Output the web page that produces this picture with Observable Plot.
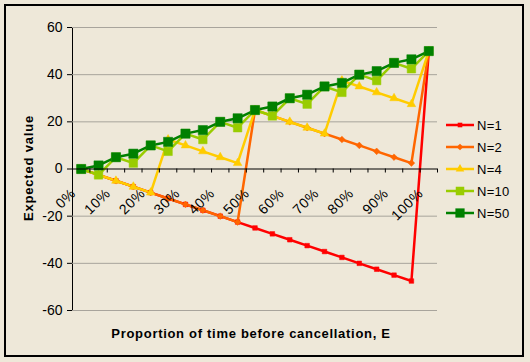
<!DOCTYPE html>
<html>
<head>
<meta charset="utf-8">
<script src="https://cdn.jsdelivr.net/npm/d3@7"></script>
<script src="https://cdn.jsdelivr.net/npm/@observablehq/plot@0.6"></script>
<style>
  html, body { margin: 0; padding: 0; background: #EEE8D9; }
  #wrap { position: relative; width: 530px; height: 362px; overflow: hidden; background: #EEE8D9; font-family: "Liberation Sans", Arial, sans-serif; }
  #wrap svg.plot { position: absolute; left: 0; top: 0; }
  #border { position: absolute; left: 4px; top: 4px; width: 520px; height: 353px; box-sizing: border-box; border: 2px solid #000; pointer-events: none; }
  #ytitle { position: absolute; left: 28px; top: 168px; transform: translate(-50%, -50%) rotate(-90deg); font-weight: bold; font-size: 13px; letter-spacing: 0.8px; white-space: nowrap; color: #000; }
  #xtitle { position: absolute; left: 251px; top: 333px; transform: translate(-50%, -50%); font-weight: bold; font-size: 13px; letter-spacing: 0.7px; white-space: nowrap; color: #000; }
  #legend { position: absolute; left: 446px; top: 114px; font-size: 13px; color: #000; letter-spacing: 0.3px; }
  #legend .row { height: 22px; display: flex; align-items: center; }
  #legend svg { margin-right: 3px; }
</style>
</head>
<body>
<div id="wrap">
  <div id="chart"></div>
  <div id="ytitle">Expected value</div>
  <div id="xtitle">Proportion of time before cancellation, E</div>
  <div id="legend"></div>
  <div id="border"></div>
</div>
<script>
// Data
const proportions = [0, 0.05, 0.10, 0.15, 0.20, 0.25, 0.30, 0.35, 0.40, 0.45, 0.50, 0.55, 0.60, 0.65, 0.70, 0.75, 0.80, 0.85, 0.90, 0.95, 1.00];
const tickLabelValues = [0, 0.10, 0.20, 0.30, 0.40, 0.50, 0.60, 0.70, 0.80, 0.90, 1.00];
const tickLabels = ["0%", "10%", "20%", "30%", "40%", "50%", "60%", "70%", "80%", "90%", "100%"];
const seriesNames = ["N=1", "N=2", "N=4", "N=10", "N=50"];
const n1 = [0, -2.5, -5, -7.5, -10, -12.5, -15, -17.5, -20, -22.5, -25, -27.5, -30, -32.5, -35, -37.5, -40, -42.5, -45, -47.5, 50];
const n2 = [0, -2.5, -5, -7.5, -10, -12.5, -15, -17.5, -20, -22.5, 25, 22.5, 20, 17.5, 15, 12.5, 10, 7.5, 5, 2.5, 50];
const n4 = [0, -2.5, -5, -7.5, -10, 12.5, 10, 7.5, 5, 2.5, 25, 22.5, 20, 17.5, 15, 37.5, 35, 32.5, 30, 27.5, 50];
const n10 = [0, -2.5, 5, 2.5, 10, 7.5, 15, 12.5, 20, 17.5, 25, 22.5, 30, 27.5, 35, 32.5, 40, 37.5, 45, 42.5, 50];
const n50 = [0, 1.5, 5, 6.5, 10, 11.5, 15, 16.5, 20, 21.5, 25, 26.5, 30, 31.5, 35, 36.5, 40, 41.5, 45, 46.5, 50];
const yGridValues = [-60, -40, -20, 20, 40, 60];

// Styles
const seriesValues = [n1, n2, n4, n10, n50];
const colors = ["#FF0000", "#FF6600", "#FFCC00", "#99CC00", "#008000"];
const symbols = ["square", "diamond2", "triangle", "square", "square"];
const radii = [2.6, 3.0, 3.2, 4.8, 5.2];

const step = 0.05;
const categoryBounds = d3.range(proportions.length + 1).map(i => -step / 2 + i * step);

const series = seriesNames.map((name, s) => ({
  name, color: colors[s], symbol: symbols[s], r: radii[s],
  data: proportions.map((p, i) => ({x: p, y: seriesValues[s][i]}))
}));

const lineMarks = series.map(s => Plot.line(s.data, {x: "x", y: "y", stroke: s.color, strokeWidth: 2.5}));
const dotMarks = series.map(s => Plot.dot(s.data, {x: "x", y: "y", symbol: () => s.symbol, r: s.r, fill: s.color, stroke: s.color, strokeWidth: 0.5}));

const chart = Plot.plot({
  width: 530,
  height: 362,
  marginLeft: 72,
  marginRight: 93,
  marginTop: 27,
  marginBottom: 52,
  style: {background: "transparent", fontFamily: "'Liberation Sans', Arial, sans-serif", fontSize: "14px", color: "#000"},
  x: {domain: [-step / 2, 1 + step / 2], axis: null},
  y: {domain: [-60, 60], label: null, line: true, tickSize: 5, tickPadding: 5, tickFormat: d => String(d)},
  symbol: {type: "identity"},
  marks: [
    Plot.ruleY(yGridValues, {stroke: "#A8A49C", strokeWidth: 1}),
    ...lineMarks,
    ...dotMarks,
    Plot.ruleY([0], {stroke: "#000", strokeWidth: 1}),
    Plot.ruleX(categoryBounds, {x: d => d, y1: () => 0, y2: () => 0, insetBottom: -4, stroke: "#000"}),
    Plot.text(tickLabelValues, {x: d => d, y: () => 0, text: (d, i) => tickLabels[i], rotate: -45, textAnchor: "end", fontSize: 14, fill: "#000"})
  ]
});
document.getElementById("chart").appendChild(chart);
// shift rotated category labels below the axis (screen-space offset before rotation)
d3.select(chart).selectAll("text")
  .filter(function() { return tickLabels.includes(this.textContent) && (this.getAttribute("transform") || "").includes("rotate"); })
  .attr("transform", function() { return "translate(-8,22) " + this.getAttribute("transform"); })
  .attr("letter-spacing", "0.6px");

// Legend
const legend = document.getElementById("legend");
series.forEach(s => {
  const row = document.createElement("div");
  row.className = "row";
  const sw = d3.create("svg").attr("width", 28).attr("height", 12);
  sw.append("line").attr("x1", 0).attr("x2", 28).attr("y1", 6).attr("y2", 6).attr("stroke", s.color).attr("stroke-width", 2.5);
  sw.append("path").attr("transform", "translate(14,6)")
    .attr("d", d3.symbol(s.symbol === "square" ? d3.symbolSquare : s.symbol === "triangle" ? d3.symbolTriangle : d3.symbolDiamond2, Math.PI * s.r * s.r)())
    .attr("fill", s.color);
  row.appendChild(sw.node());
  const t = document.createElement("span");
  t.textContent = s.name;
  row.appendChild(t);
  legend.appendChild(row);
});
</script>
</body>
</html>
